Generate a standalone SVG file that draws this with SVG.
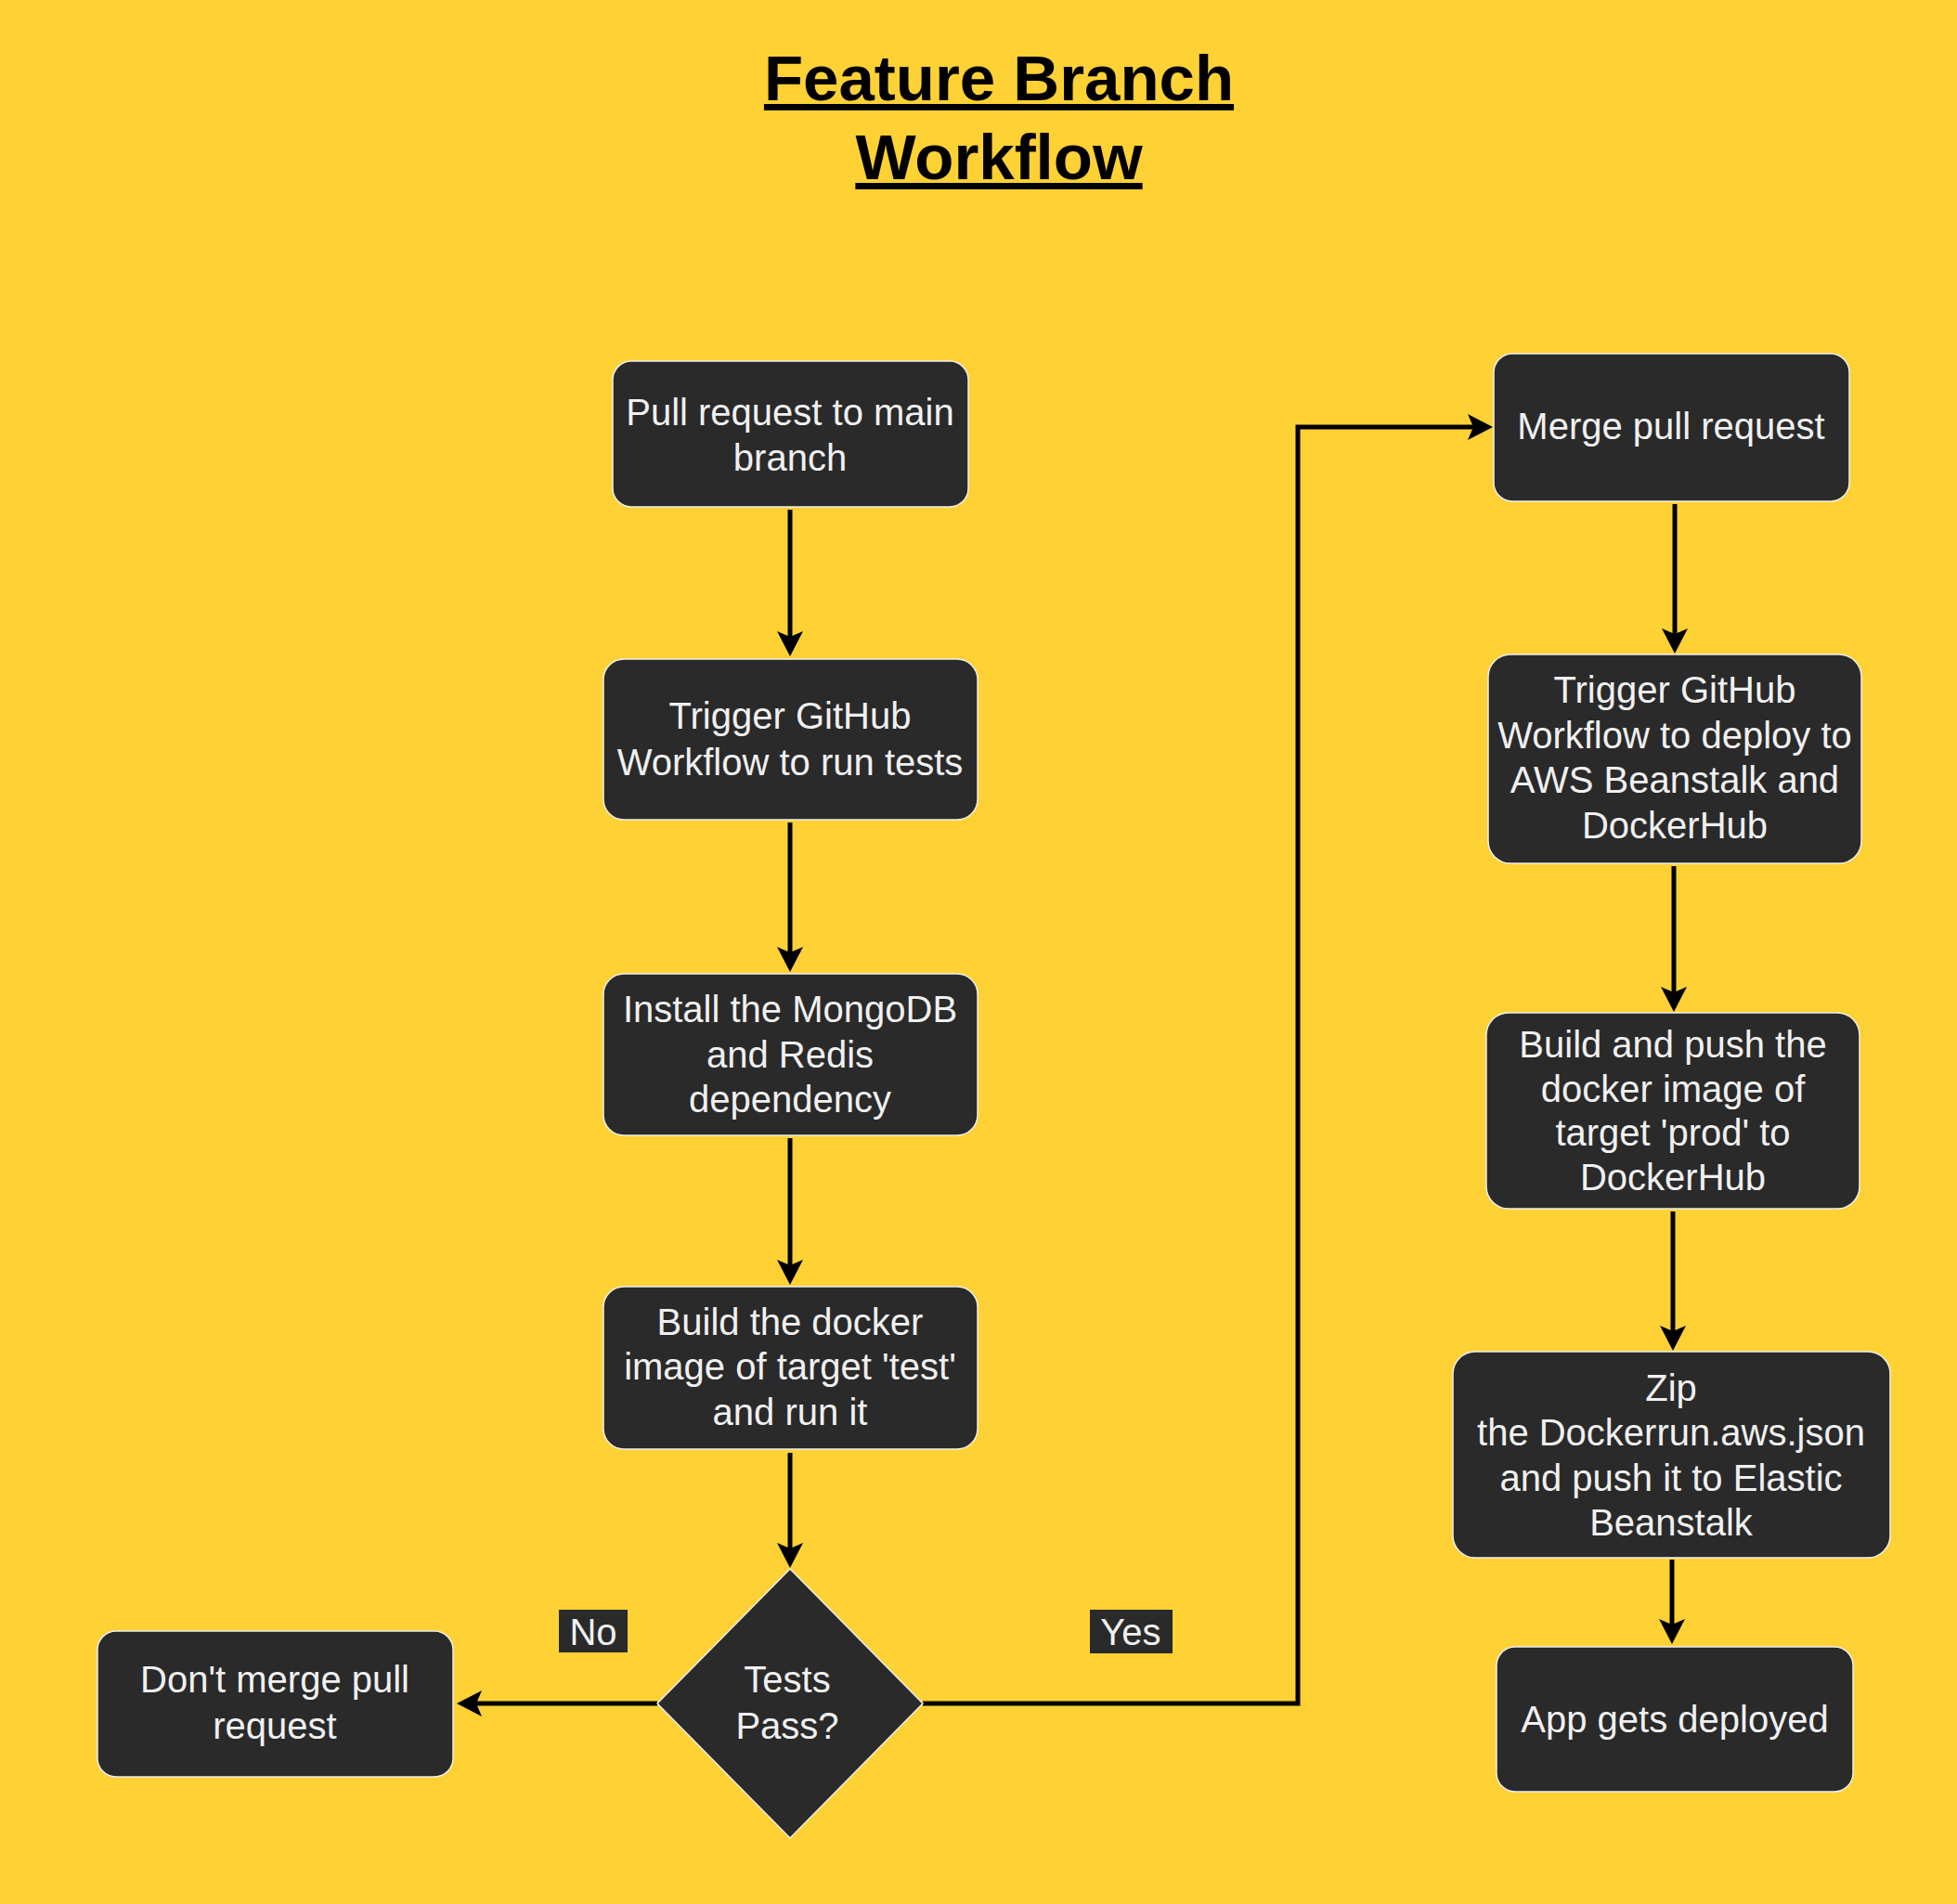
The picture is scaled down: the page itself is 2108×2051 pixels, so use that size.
<svg xmlns="http://www.w3.org/2000/svg" width="2108" height="2051" viewBox="0 0 2108 2051">
<defs>
<style>
.bg{fill:#FED135}
.node{fill:#2A2A2A;stroke:#EEEEEE;stroke-width:1.5}
.t{font-family:"Liberation Sans",Arial,Helvetica,sans-serif;font-size:40px;fill:#F0F0F0;text-anchor:middle}
.title{font-family:"Liberation Sans",Arial,Helvetica,sans-serif;font-size:69px;font-weight:bold;fill:#000;text-anchor:middle;text-decoration:underline}
.edge{fill:none;stroke:#000;stroke-width:5}
.lbl{fill:#2A2A2A}
</style>
<marker id="arrow" viewBox="0 0 27 28" refX="6" refY="14" markerWidth="27" markerHeight="28" markerUnits="userSpaceOnUse" orient="auto">
<path d="M27,14 L0,0 L6,14 L0,28 Z" fill="#000"/>
</marker>
</defs>
<rect class="bg" x="0" y="0" width="2108" height="2051"/>
<g id="title">
<text class="title" x="1076" y="108">Feature Branch</text>
<text class="title" x="1076" y="193">Workflow</text>
</g>
<g id="connectors">
<path class="edge" d="M851,549 L851,686" marker-end="url(#arrow)"/>
<path class="edge" d="M851,886 L851,1026" marker-end="url(#arrow)"/>
<path class="edge" d="M851,1226 L851,1363" marker-end="url(#arrow)"/>
<path class="edge" d="M851,1565 L851,1668" marker-end="url(#arrow)"/>
<path class="edge" d="M708,1835 L513,1835" marker-end="url(#arrow)"/>
<path class="edge" d="M994,1835 L1398,1835 L1398,460 L1587,460" marker-end="url(#arrow)"/>
<path class="edge" d="M1804,543 L1804,683" marker-end="url(#arrow)"/>
<path class="edge" d="M1803,933 L1803,1069" marker-end="url(#arrow)"/>
<path class="edge" d="M1802,1305 L1802,1434" marker-end="url(#arrow)"/>
<path class="edge" d="M1801,1680 L1801,1750" marker-end="url(#arrow)"/>
<g id="label-no">
<rect class="lbl" x="602" y="1734" width="74" height="46"/>
<text class="t" x="639" y="1772">No</text>
</g>
<g id="label-yes">
<rect class="lbl" x="1174" y="1734" width="89" height="47"/>
<text class="t" x="1218" y="1772">Yes</text>
</g>
</g>
<g id="n-pull-request">
<rect class="node" x="660" y="389" width="383" height="157" rx="20"/>
<text class="t" x="851" y="458">Pull request to main</text>
<text class="t" x="851" y="507">branch</text>
</g>
<g id="n-trigger-tests">
<rect class="node" x="650" y="710" width="403" height="173" rx="22"/>
<text class="t" x="851" y="785">Trigger GitHub</text>
<text class="t" x="851" y="835">Workflow to run tests</text>
</g>
<g id="n-install">
<rect class="node" x="650" y="1049" width="403" height="174" rx="22"/>
<text class="t" x="851" y="1101">Install the MongoDB</text>
<text class="t" x="851" y="1150">and Redis</text>
<text class="t" x="851" y="1198">dependency</text>
</g>
<g id="n-build-test">
<rect class="node" x="650" y="1386" width="403" height="175" rx="22"/>
<text class="t" x="851" y="1438">Build the docker</text>
<text class="t" x="851" y="1486">image of target 'test'</text>
<text class="t" x="851" y="1535">and run it</text>
</g>
<g id="n-tests-pass">
<polygon class="node" points="851,1690 994,1835 851,1980 708,1835"/>
<text class="t" x="848" y="1823">Tests</text>
<text class="t" x="848" y="1873">Pass?</text>
</g>
<g id="n-dont-merge">
<rect class="node" x="105" y="1757" width="383" height="157" rx="20"/>
<text class="t" x="296" y="1823">Don't merge pull</text>
<text class="t" x="296" y="1873">request</text>
</g>
<g id="n-merge">
<rect class="node" x="1609" y="381" width="383" height="159" rx="20"/>
<text class="t" x="1800" y="473">Merge pull request</text>
</g>
<g id="n-trigger-deploy">
<rect class="node" x="1603" y="705" width="402" height="225" rx="24"/>
<text class="t" x="1804" y="757">Trigger GitHub</text>
<text class="t" x="1804" y="806">Workflow to deploy to</text>
<text class="t" x="1804" y="854">AWS Beanstalk and</text>
<text class="t" x="1804" y="903">DockerHub</text>
</g>
<g id="n-build-push">
<rect class="node" x="1601" y="1091" width="402" height="211" rx="24"/>
<text class="t" x="1802" y="1139">Build and push the</text>
<text class="t" x="1802" y="1187">docker image of</text>
<text class="t" x="1802" y="1234">target 'prod' to</text>
<text class="t" x="1802" y="1282">DockerHub</text>
</g>
<g id="n-zip">
<rect class="node" x="1565" y="1456" width="471" height="222" rx="24"/>
<text class="t" x="1800" y="1509">Zip</text>
<text class="t" x="1800" y="1557">the Dockerrun.aws.json</text>
<text class="t" x="1800" y="1606">and push it to Elastic</text>
<text class="t" x="1800" y="1654">Beanstalk</text>
</g>
<g id="n-app-deployed">
<rect class="node" x="1612" y="1774" width="384" height="156" rx="20"/>
<text class="t" x="1804" y="1866">App gets deployed</text>
</g>
</svg>
